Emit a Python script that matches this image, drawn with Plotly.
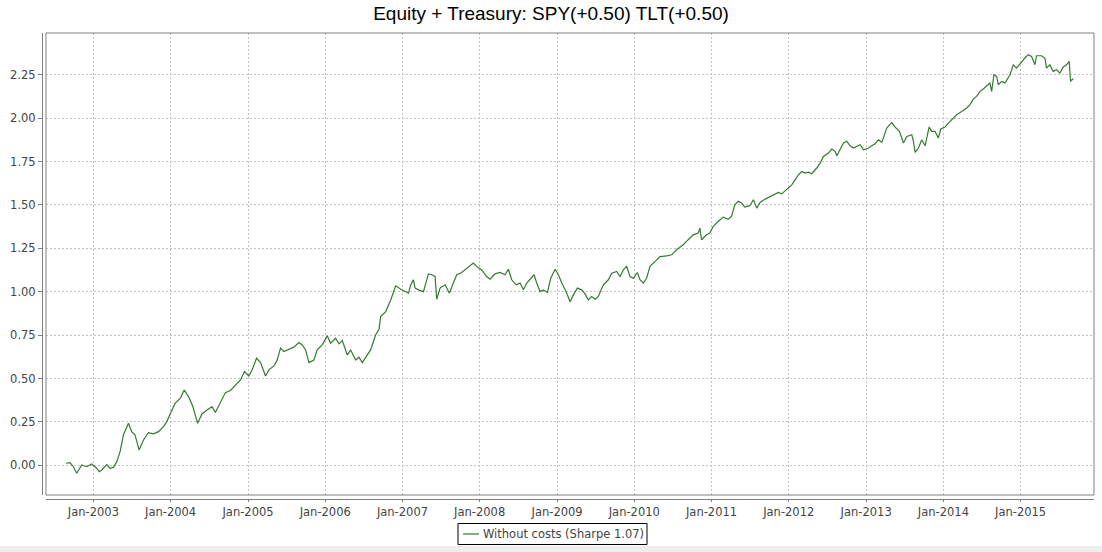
import datetime as dt
import plotly.graph_objects as go

# ---- data (decimal year, cumulative return) ----
years = [
    2002.645, 2002.697, 2002.741, 2002.784, 2002.849, 2002.914, 2002.978, 2003.022, 2003.078, 2003.108,
    2003.173, 2003.216, 2003.259, 2003.303, 2003.346, 2003.389, 2003.454, 2003.497, 2003.540, 2003.592,
    2003.649, 2003.713, 2003.778, 2003.843, 2003.908, 2003.951, 2003.994, 2004.059, 2004.124, 2004.176,
    2004.232, 2004.288, 2004.349, 2004.405, 2004.470, 2004.535, 2004.578, 2004.643, 2004.708, 2004.773,
    2004.837, 2004.902, 2004.954, 2005.010, 2005.054, 2005.110, 2005.162, 2005.183, 2005.227, 2005.270,
    2005.335, 2005.378, 2005.421, 2005.464, 2005.529, 2005.594, 2005.659, 2005.702, 2005.745, 2005.789,
    2005.853, 2005.896, 2005.961, 2006.026, 2006.070, 2006.134, 2006.178, 2006.221, 2006.286, 2006.329,
    2006.394, 2006.437, 2006.480, 2006.524, 2006.588, 2006.653, 2006.697, 2006.718, 2006.783, 2006.848,
    2006.913, 2006.978, 2007.034, 2007.078, 2007.108, 2007.142, 2007.164, 2007.207, 2007.272, 2007.293,
    2007.336, 2007.379, 2007.422, 2007.444, 2007.487, 2007.552, 2007.608, 2007.659, 2007.703, 2007.767,
    2007.823, 2007.875, 2007.918, 2007.970, 2008.026, 2008.091, 2008.134, 2008.198, 2008.263, 2008.328,
    2008.371, 2008.414, 2008.470, 2008.522, 2008.565, 2008.608, 2008.651, 2008.703, 2008.737, 2008.780,
    2008.823, 2008.875, 2008.918, 2008.974, 2009.017, 2009.060, 2009.116, 2009.168, 2009.211, 2009.263,
    2009.319, 2009.362, 2009.405, 2009.448, 2009.491, 2009.534, 2009.599, 2009.664, 2009.707, 2009.772,
    2009.815, 2009.858, 2009.901, 2009.944, 2009.987, 2010.039, 2010.073, 2010.116, 2010.159, 2010.203,
    2010.267, 2010.332, 2010.418, 2010.483, 2010.547, 2010.634, 2010.698, 2010.763, 2010.828, 2010.849,
    2010.871, 2010.935, 2010.978, 2011.022, 2011.086, 2011.151, 2011.216, 2011.259, 2011.302, 2011.345,
    2011.388, 2011.431, 2011.496, 2011.543, 2011.586, 2011.629, 2011.694, 2011.759, 2011.823, 2011.866,
    2011.909, 2011.974, 2012.039, 2012.082, 2012.125, 2012.168, 2012.211, 2012.254, 2012.297, 2012.362,
    2012.405, 2012.448, 2012.513, 2012.556, 2012.599, 2012.621, 2012.664, 2012.707, 2012.750, 2012.793,
    2012.836, 2012.879, 2012.922, 2012.966, 2013.030, 2013.073, 2013.116, 2013.159, 2013.203, 2013.267,
    2013.332, 2013.375, 2013.431, 2013.483, 2013.526, 2013.591, 2013.612, 2013.634, 2013.677, 2013.720,
    2013.763, 2013.815, 2013.849, 2013.892, 2013.935, 2013.966, 2014.022, 2014.065, 2014.108, 2014.172,
    2014.237, 2014.302, 2014.345, 2014.388, 2014.431, 2014.474, 2014.517, 2014.560, 2014.603, 2014.625,
    2014.655, 2014.690, 2014.711, 2014.754, 2014.797, 2014.862, 2014.905, 2014.948, 2015.013, 2015.056,
    2015.099, 2015.142, 2015.185, 2015.207, 2015.272, 2015.315, 2015.336, 2015.379, 2015.422, 2015.466,
    2015.509, 2015.552, 2015.595, 2015.629, 2015.647, 2015.672, 2015.681,
]

equity = [
    0.012, 0.015, -0.008, -0.046, 0.002, -0.008, 0.008, -0.008, -0.037, -0.027,
    0.004, -0.017, -0.012, 0.021, 0.079, 0.175, 0.242, 0.194, 0.175, 0.088,
    0.146, 0.188, 0.181, 0.194, 0.223, 0.252, 0.296, 0.358, 0.386, 0.434,
    0.396, 0.338, 0.242, 0.296, 0.319, 0.338, 0.304, 0.358, 0.419, 0.431,
    0.463, 0.492, 0.540, 0.515, 0.550, 0.617, 0.592, 0.569, 0.515, 0.550,
    0.573, 0.607, 0.675, 0.656, 0.669, 0.681, 0.707, 0.694, 0.665, 0.592,
    0.607, 0.665, 0.694, 0.746, 0.704, 0.732, 0.700, 0.719, 0.636, 0.665,
    0.607, 0.623, 0.592, 0.623, 0.665, 0.752, 0.784, 0.857, 0.886, 0.953,
    1.034, 1.015, 1.001, 0.992, 1.040, 1.069, 1.021, 1.011, 1.001, 1.030,
    1.103, 1.098, 1.088, 0.957, 1.021, 1.040, 0.992, 1.050, 1.098, 1.111,
    1.130, 1.146, 1.165, 1.142, 1.126, 1.088, 1.073, 1.103, 1.111, 1.098,
    1.130, 1.069, 1.040, 1.050, 1.011, 1.050, 1.069, 1.098, 1.050, 1.001,
    1.011, 0.996, 1.078, 1.130, 1.098, 1.050, 1.001, 0.943, 0.982, 1.021,
    1.011, 0.988, 0.953, 0.973, 0.957, 0.973, 1.040, 1.069, 1.107, 1.117,
    1.088, 1.126, 1.146, 1.088, 1.078, 1.111, 1.069, 1.050, 1.078, 1.146,
    1.174, 1.203, 1.207, 1.213, 1.242, 1.271, 1.300, 1.328, 1.338, 1.367,
    1.300, 1.328, 1.338, 1.377, 1.405, 1.430, 1.418, 1.434, 1.501, 1.521,
    1.511, 1.488, 1.496, 1.530, 1.482, 1.515, 1.534, 1.549, 1.564, 1.572,
    1.564, 1.588, 1.616, 1.645, 1.674, 1.693, 1.684, 1.689, 1.680, 1.713,
    1.741, 1.780, 1.799, 1.822, 1.809, 1.784, 1.818, 1.857, 1.867, 1.841,
    1.828, 1.838, 1.847, 1.818, 1.828, 1.841, 1.853, 1.876, 1.861, 1.943,
    1.976, 1.949, 1.924, 1.857, 1.895, 1.905, 1.866, 1.803, 1.828, 1.876,
    1.841, 1.949, 1.924, 1.924, 1.886, 1.938, 1.949, 1.972, 1.991, 2.020,
    2.039, 2.059, 2.078, 2.110, 2.126, 2.155, 2.168, 2.184, 2.203, 2.155,
    2.250, 2.241, 2.193, 2.212, 2.203, 2.250, 2.308, 2.289, 2.328, 2.347,
    2.366, 2.356, 2.308, 2.360, 2.360, 2.347, 2.289, 2.308, 2.270, 2.279,
    2.260, 2.295, 2.308, 2.328, 2.212, 2.225, 2.222,
]

y_ticks = [0.0, 0.25, 0.5, 0.75, 1.0, 1.25, 1.5, 1.75, 2.0, 2.25]
title_text = "Equity + Treasury: SPY(+0.50) TLT(+0.50)"
series_name = "Without costs (Sharpe 1.07)"


def to_date(t):
    y = int(t)
    start = dt.datetime(y, 1, 1)
    end = dt.datetime(y + 1, 1, 1)
    return start + (end - start) * (t - y)


dates = [to_date(t) for t in years]

W, H = 1102, 552
LINE_GREEN = "#357a32"
AXIS_GREY = "#808080"
GRID = "#c2c2c2"
TICK_FONT = dict(family="DejaVu Sans", size=11.5, color="#444444")

fig = go.Figure()
fig.add_trace(go.Scatter(
    x=dates, y=equity, mode="lines", name=series_name,
    line=dict(color=LINE_GREEN, width=1.2),
    showlegend=False,
))

# custom legend box (JFreeChart style: short line sample + text, black frame)
leg_box = dict(type="rect", xref="paper", yref="paper",
               x0=458 / W, x1=647 / W, y0=1 - 544.5 / H, y1=1 - 523.5 / H,
               line=dict(color="black", width=1), fillcolor="white", layer="above")
leg_line = dict(type="line", xref="paper", yref="paper",
                x0=463 / W, x1=479 / W, y0=1 - 534 / H, y1=1 - 534 / H,
                line=dict(color=LINE_GREEN, width=1.2), layer="above")

fig.update_layout(
    width=W, height=H,
    margin=dict(l=0, r=0, t=0, b=0),
    paper_bgcolor="white", plot_bgcolor="white",
    title=dict(text=title_text, x=0.5, xanchor="center",
               y=1 - 13 / H, yanchor="middle",
               font=dict(family="Liberation Sans", size=19, color="black")),
    showlegend=False,
    xaxis=dict(
        domain=[46 / W, 1094 / W], anchor="free", position=1 - 499 / H,
        type="date", range=[dt.datetime(2002, 5, 22), dt.datetime(2015, 12, 14)],
        tick0="2003-01-01", dtick="M12", tickformat="%b-%Y",
        showline=True, linecolor=AXIS_GREY, linewidth=1,
        ticks="outside", ticklen=2, tickcolor=AXIS_GREY,
        showgrid=True, gridcolor=GRID, griddash="2px,2px", gridwidth=1,
        zeroline=False, tickfont=TICK_FONT,
    ),
    yaxis=dict(
        domain=[1 - 495 / H, 1 - 33 / H], anchor="free", position=42 / W,
        range=[-0.171, 2.491],
        tickvals=y_ticks, tickformat=".2f",
        showline=True, linecolor=AXIS_GREY, linewidth=1,
        ticks="outside", ticklen=4, tickcolor=AXIS_GREY,
        showgrid=True, gridcolor=GRID, griddash="2px,2px", gridwidth=1,
        zeroline=False, tickfont=TICK_FONT,
    ),
    shapes=[
        dict(type="rect", xref="x domain", yref="y domain", x0=0, x1=1, y0=0, y1=1,
             line=dict(color=AXIS_GREY, width=1), fillcolor="rgba(0,0,0,0)", layer="above"),
        dict(type="rect", xref="paper", yref="paper", x0=0, x1=1, y0=0, y1=1 - 546 / H,
             line=dict(width=0), fillcolor="#eeeeee", layer="below"),
        leg_box,
        leg_line,
    ],
    annotations=[
        dict(text=series_name, xref="paper", yref="paper",
             x=481 / W, xanchor="left", y=1 - 534 / H, yanchor="middle",
             showarrow=False, font=dict(family="DejaVu Sans", size=11.5, color="#444444")),
    ],
)

fig.write_html("out.html")
